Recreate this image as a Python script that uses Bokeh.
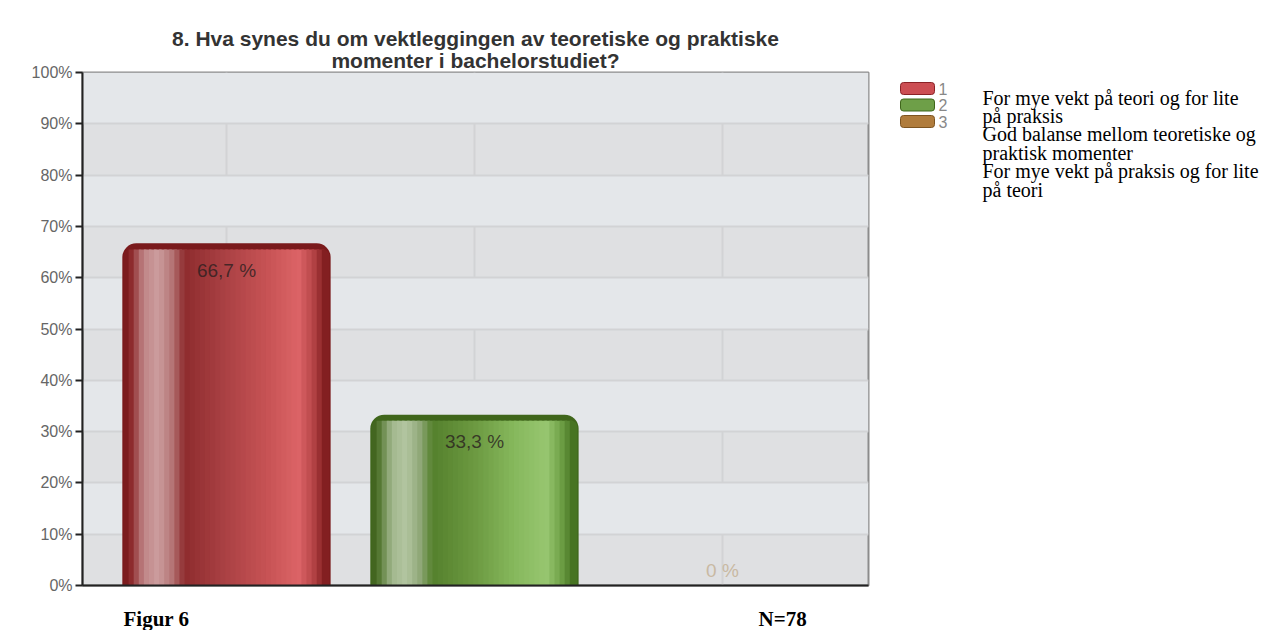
from bokeh.plotting import figure
from bokeh.layouts import column, row
from bokeh.models import (ColumnDataSource, Range1d, FixedTicker, PrintfTickFormatter,
                          Label, CDSView, BooleanFilter, Title)
from bokeh.transform import dodge
from bokeh.core.properties import value
from bokeh.embed import file_html
from bokeh.resources import INLINE

# ---------------- data ----------------
categories = ["1", "2", "3"]
shares = [66.7, 33.3, 0.0]
value_labels = ["66,7 %", "33,3 %", "0 %"]
y_ticks = [0, 10, 20, 30, 40, 50, 60, 70, 80, 90, 100]
title_lines = ["8. Hva synes du om vektleggingen av teoretiske og praktiske",
               "momenter i bachelorstudiet?"]
description_lines = ["For mye vekt på teori og for lite",
                     "på praksis",
                     "God balanse mellom teoretiske og",
                     "praktisk momenter",
                     "For mye vekt på praksis og for lite",
                     "på teori"]
figure_caption = "Figur 6"
n_caption = "N=78"

# ---------------- styles ----------------
edge_colors = ["#7a1a1c", "#3f661b", "#8a5a20"]
legend_fill = ["#cc4e53", "#6e9f48", "#b07c3c"]
legend_line = ["#8a2226", "#3f661b", "#7d5420"]
stops = [
    [(0.00, "#741416"), (0.04, "#8f2d2f"), (0.10, "#c08687"), (0.17, "#cc9d9e"),
     (0.24, "#b47475"), (0.30, "#8e2c2e"), (0.50, "#aa4144"), (0.70, "#c65254"),
     (0.86, "#dc6467"), (0.93, "#b84648"), (1.00, "#781618")],
    [(0.00, "#3a5d16"), (0.04, "#577a35"), (0.10, "#a2b78e"), (0.17, "#b3c6a1"),
     (0.24, "#8fa777"), (0.30, "#55812d"), (0.50, "#6b9840"), (0.70, "#86b85c"),
     (0.86, "#97c670"), (0.93, "#70a248"), (1.00, "#3e6a1a")],
    [(0.00, "#6e4514"), (0.04, "#8a6230"), (0.10, "#c8b08e"), (0.17, "#d4bc9c"),
     (0.24, "#b8976a"), (0.30, "#8e6228"), (0.50, "#a8783a"), (0.70, "#c49050"),
     (0.86, "#d4a060"), (0.93, "#b08040"), (1.00, "#70481a")],
]


def hex2rgb(h):
    return tuple(int(h[i:i + 2], 16) for i in (1, 3, 5))


def interp(st, t):
    for (t0, c0), (t1, c1) in zip(st[:-1], st[1:]):
        if t0 <= t <= t1:
            f = (t - t0) / (t1 - t0) if t1 > t0 else 0
            a, b = hex2rgb(c0), hex2rgb(c1)
            return "#%02x%02x%02x" % tuple(int(round(a[k] + (b[k] - a[k]) * f)) for k in range(3))
    return st[-1][1]


xs = list(range(len(categories)))
bar_w = 0.84
inner_w = 0.82
n_slices = 40
slice_w = inner_w / n_slices

data = dict(x=xs, top=shares, inner_top=[max(v - 1.2, 0) for v in shares],
            edge=edge_colors, lab=value_labels)
for i in range(n_slices):
    t = (i + 0.5) / n_slices
    data["c%d" % i] = [interp(st, t) for st in stops]
source = ColumnDataSource(data)

# ---------------- main chart ----------------
MAIN_W, MAIN_H = 880, 600
TOP_B, BOT_B = 72, 15
p = figure(width=MAIN_W, height=MAIN_H, output_backend="svg", toolbar_location=None,
           x_range=Range1d(-0.5806, 2.589), y_range=Range1d(0, 100),
           min_border_left=82, min_border_right=12, min_border_top=TOP_B,
           min_border_bottom=BOT_B,
           background_fill_color="#dfe0e2", border_fill_color="white")
title_style = dict(align="center", text_font="Liberation Sans", text_font_size="21px",
                   text_font_style="bold", text_color="#333333")
p.title = Title(text=title_lines[0], standoff=-9, **title_style)
p.add_layout(Title(text=title_lines[1], standoff=2, **title_style), "above")

p.outline_line_color = "#8c8c8c"
p.outline_line_width = 2

p.ygrid.ticker = FixedTicker(ticks=y_ticks)
p.ygrid.grid_line_color = "#d2d3d5"
p.ygrid.grid_line_width = 2
p.ygrid.band_fill_color = "#e4e7ea"
p.ygrid.band_fill_alpha = 1.0
p.xgrid.ticker = FixedTicker(ticks=xs)
p.xgrid.grid_line_color = "#d2d3d5"
p.xgrid.grid_line_width = 2

p.yaxis.ticker = FixedTicker(ticks=y_ticks)
p.yaxis.formatter = PrintfTickFormatter(format="%d%%")
p.yaxis.axis_line_color = "#222222"
p.yaxis.axis_line_width = 2
p.yaxis.major_tick_out = 7
p.yaxis.major_tick_in = 0
p.yaxis.major_tick_line_color = "#222222"
p.yaxis.major_tick_line_width = 2
p.yaxis.minor_tick_line_color = None
p.yaxis.major_label_text_font = "Liberation Sans"
p.yaxis.major_label_text_font_size = "16px"
p.yaxis.major_label_text_color = "#666666"
p.yaxis.major_label_standoff = 3

p.xaxis.ticker = FixedTicker(ticks=[])
p.xaxis.major_label_text_font_size = "0px"
p.xaxis.axis_line_color = "#222222"
p.xaxis.axis_line_width = 2
p.xaxis.major_tick_line_color = None
p.xaxis.minor_tick_line_color = None

# bars: dark rounded shell + gradient slices
p.vbar(x="x", top="top", bottom=0, width=bar_w, source=source, fill_color="edge",
       line_color=None, border_radius=(14, 14, 0, 0))
for i in range(n_slices):
    off = -inner_w / 2 + (i + 0.5) * slice_w
    rad = (0, 0, 0, 0)
    if i == 0:
        rad = (6, 0, 0, 0)
    elif i == n_slices - 1:
        rad = (0, 6, 0, 0)
    p.vbar(x=dodge("x", off), top="inner_top", bottom=0, width=slice_w * 1.5,
           source=source, fill_color="c%d" % i, line_color=None, border_radius=rad)

nonzero = CDSView(filter=BooleanFilter([v > 0 for v in shares]))
zero = CDSView(filter=BooleanFilter([v == 0 for v in shares]))
p.text(x="x", y="top", text="lab", source=source, view=nonzero, text_align="center",
       text_baseline="middle", y_offset=27, text_font=value("Liberation Sans"),
       text_font_size="19px", text_color="#2a1f1f", text_alpha=0.8)
p.text(x="x", y="top", text="lab", source=source, view=zero, text_align="center",
       text_baseline="middle", y_offset=-15, text_font=value("Liberation Sans"),
       text_font_size="19px", text_color="#c9b9a3")

# ---------------- legend / descriptions (right) ----------------
SIDE_W = 400
side = figure(width=SIDE_W, height=MAIN_H, output_backend="svg", toolbar_location=None,
              x_range=Range1d(MAIN_W, MAIN_W + SIDE_W),
              y_range=Range1d(MAIN_H - BOT_B, TOP_B),
              min_border_left=0, min_border_right=0, min_border_top=TOP_B,
              min_border_bottom=BOT_B, background_fill_color="white",
              border_fill_color="white")
side.axis.visible = False
side.grid.visible = False
side.outline_line_color = None

leg_y = [88 + 16.5 * i for i in range(len(categories))]
leg_src = ColumnDataSource(dict(cat=categories, y=leg_y, top=[v - 6 for v in leg_y],
                                bottom=[v + 6 for v in leg_y], fill=legend_fill,
                                line=legend_line))
side.quad(left=900, right=934, top="top", bottom="bottom", source=leg_src,
          fill_color="fill", line_color="line", line_width=1, border_radius=3)
side.text(x=938, y="y", text="cat", source=leg_src, text_baseline="middle",
          text_font=value("Liberation Sans"), text_font_size="16px",
          text_color="#888888")

for k, line in enumerate(description_lines):
    side.add_layout(Label(x=982, y=97 + 18.4 * k, text=line, text_align="left",
                          text_baseline="middle", text_font="Liberation Serif",
                          text_font_size="20px", text_color="#000000"))

# ---------------- captions (bottom) ----------------
CAP_H = 30
cap = figure(width=MAIN_W + SIDE_W, height=CAP_H, output_backend="svg", toolbar_location=None,
             x_range=Range1d(0, MAIN_W + SIDE_W), y_range=Range1d(MAIN_H + CAP_H, MAIN_H),
             min_border=0, min_border_left=0, min_border_right=0, min_border_top=0,
             min_border_bottom=0, background_fill_color="white", border_fill_color="white")
cap.axis.visible = False
cap.grid.visible = False
cap.outline_line_color = None
for txt, px in ((figure_caption, 123), (n_caption, 758)):
    cap.add_layout(Label(x=px, y=618, text=txt, text_align="left", text_baseline="middle",
                         text_font="Liberation Serif", text_font_size="21px",
                         text_font_style="bold", text_color="#000000"))

layout = column(row(p, side, spacing=0), cap, spacing=0)
open("out.html", "w").write(file_html(layout, INLINE))
